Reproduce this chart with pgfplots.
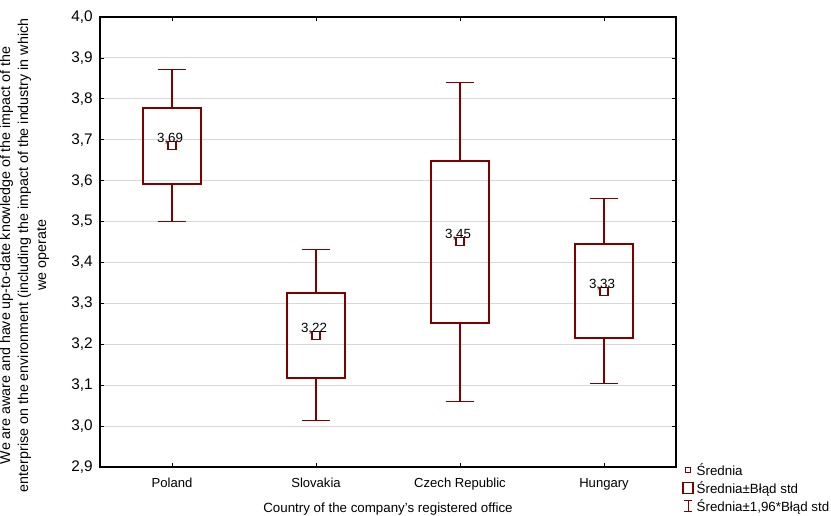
\documentclass[border=0pt]{standalone}
\usepackage{pgfplots}
\pgfplotsset{compat=1.18}
\usepgfplotslibrary{statistics}
\usepackage{fontspec}
\setmainfont{Liberation Sans}
\definecolor{dred}{RGB}{128,0,0}
\definecolor{gridc}{RGB}{216,216,216}
\begin{document}
\begin{tikzpicture}[x=1pt,y=1pt]
\begin{axis}[
  at={(0,0)}, anchor=south west,
  scale only axis, width=432pt, height=337.5pt,
  xmin=-0.5, xmax=3.5, ymin=2.9, ymax=4.0,
  xtick={0,1,2,3},
  xticklabels={Poland,Slovakia,Czech Republic,Hungary},
  ytick={2.9,3.0,...,4.01},
  ymajorgrids, grid style={gridc, line width=0.8pt},
  tick align=inside, major tick length=3pt,
  tick style={black, line width=0.6pt},
  axis line style={black, line width=0.9pt},
  xtick pos=both, ytick pos=both,
  yticklabel style={font=\fontsize{11.5}{13}\selectfont, xshift=-2pt, /pgf/number format/.cd, use comma, fixed, fixed zerofill, precision=1, assume math mode=true},
  xticklabel style={font=\fontsize{9.8}{11}\selectfont, yshift=-5pt},
  xlabel={Country of the company's registered office},
  xlabel style={font=\fontsize{10}{11}\selectfont, yshift=-2.5pt},
  ylabel={We are aware and have up-to-date knowledge of the impact of the\\enterprise on the environment (including the impact of the industry in which\\we operate},
  ylabel style={font=\fontsize{10.7}{13.5}\selectfont, align=center, at={(rel axis cs:0,0.5)}, anchor=south, inner sep=0pt, yshift=38pt, xshift=-10pt},
  boxplot/draw direction=y,
  boxplot/draw/median/.code={},
  boxplot/every box/.style={line width=1.2pt},
  boxplot/every whisker/.style={line width=0.8pt},
  boxplot/box extend=0.4,
  boxplot/whisker extend=0.2,
  legend style={at={(rel axis cs:1.0085,0.017)}, anchor=north west, draw=none, fill=none, font=\fontsize{10}{12}\selectfont, row sep=0pt, inner sep=1pt, nodes={inner sep=1.6pt}},
  legend cell align=left,
]
\addplot[forget plot, dred, boxplot prepared={draw position=0, lower whisker=3.499, lower quartile=3.592, median=3.685, upper quartile=3.778, upper whisker=3.871}] coordinates {};
\addplot[forget plot, dred, boxplot prepared={draw position=1, lower whisker=3.013, lower quartile=3.118, median=3.222, upper quartile=3.326, upper whisker=3.431}] coordinates {};
\addplot[forget plot, dred, boxplot prepared={draw position=2, lower whisker=3.060, lower quartile=3.252, median=3.452, upper quartile=3.648, upper whisker=3.840}] coordinates {};
\addplot[forget plot, dred, boxplot prepared={draw position=3, lower whisker=3.103, lower quartile=3.215, median=3.330, upper quartile=3.445, upper whisker=3.556}] coordinates {};
\addplot[forget plot, only marks, mark=square, mark size=3pt, mark options={line width=0.8pt, fill=white}, dred,
  nodes near coords, point meta=explicit symbolic,
  nodes near coords style={anchor=center, yshift=5pt, xshift=-1.5pt, text=black, font=\fontsize{10}{11}\selectfont}]
  coordinates {(0,3.685)[3,69] (1,3.222)[3,22] (2,3.452)[3,45] (3,3.330)[3,33]};
\addlegendimage{legend image code/.code={\draw[dred, line width=0.7pt] (0.08cm,-0.06cm) rectangle (0.22cm,0.08cm); \path (0.31cm,0);}}
\addlegendentry{Średnia}
\addlegendimage{legend image code/.code={\draw[dred, line width=1.2pt] (0.02cm,-0.14cm) rectangle (0.28cm,0.15cm); \path (0.31cm,0);}}
\addlegendentry{Średnia±Błąd std}
\addlegendimage{legend image code/.code={\draw[dred, line width=0.8pt] (0.15cm,-0.14cm)--(0.15cm,0.15cm) (0.05cm,-0.14cm)--(0.25cm,-0.14cm) (0.05cm,0.15cm)--(0.25cm,0.15cm); \path (0.31cm,0);}}
\addlegendentry{Średnia±1,96*Błąd std}
\end{axis}
\pgfresetboundingbox
\path[use as bounding box] (-75pt,-36.75pt) rectangle (548.25pt,350.25pt);
\end{tikzpicture}
\end{document}
